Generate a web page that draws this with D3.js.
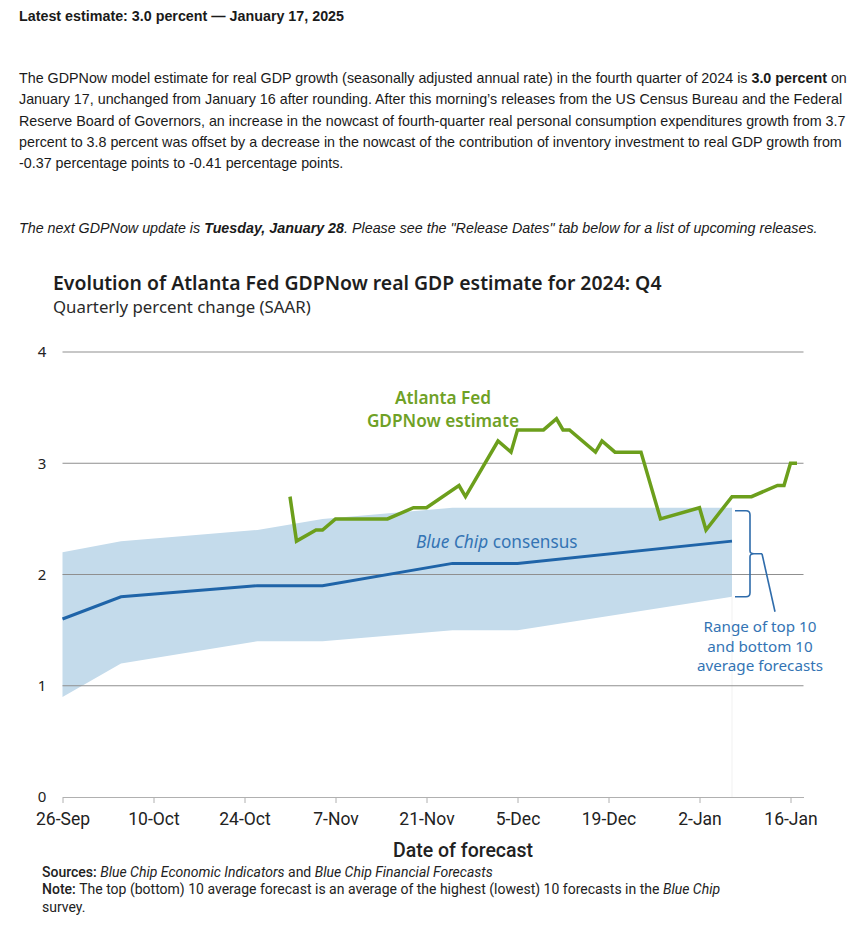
<!DOCTYPE html>
<html>
<head>
<meta charset="utf-8">
<script src="https://cdn.jsdelivr.net/npm/d3@7/dist/d3.min.js"></script>
<style>
  body { margin: 0; background: #fff; }
  svg { display: block; }
</style>
</head>
<body>
<svg id="chart" width="863" height="930"></svg>
<script>
// ---- data ----
const chipDates = ["2024-09-26", "2024-10-05", "2024-10-26", "2024-11-05", "2024-11-25", "2024-12-05", "2025-01-07"];
const chipConsensus = [1.6, 1.8, 1.9, 1.9, 2.1, 2.1, 2.3];
const chipTop10 = [2.2, 2.3, 2.4, 2.5, 2.6, 2.6, 2.6];
const chipBottom10 = [0.9, 1.2, 1.4, 1.4, 1.5, 1.5, 1.8];

const nowDates = ["2024-10-31", "2024-11-01", "2024-11-04", "2024-11-05", "2024-11-07", "2024-11-15",
  "2024-11-19", "2024-11-21", "2024-11-26", "2024-11-27", "2024-12-02", "2024-12-04", "2024-12-05",
  "2024-12-09", "2024-12-11", "2024-12-12", "2024-12-13", "2024-12-17", "2024-12-18", "2024-12-20",
  "2024-12-24", "2024-12-27", "2025-01-02", "2025-01-03", "2025-01-07", "2025-01-10", "2025-01-14",
  "2025-01-15", "2025-01-16", "2025-01-17"];
const nowValues = [2.7, 2.3, 2.4, 2.4, 2.5, 2.5,
  2.6, 2.6, 2.8, 2.7, 3.2, 3.1, 3.3,
  3.3, 3.4, 3.3, 3.3, 3.1, 3.2, 3.1,
  3.1, 2.5, 2.6, 2.4, 2.7, 2.7, 2.8,
  2.8, 3.0, 3.0];

const xTickDates = ["2024-09-26", "2024-10-10", "2024-10-24", "2024-11-07", "2024-11-21",
  "2024-12-05", "2024-12-19", "2025-01-02", "2025-01-16"];
const yTicks = [0, 1, 2, 3, 4];

const parse = d3.timeParse("%Y-%m-%d");
const fmt = d3.timeFormat("%-d-%b");

const chip = chipDates.map((d, i) => ({ date: parse(d), mid: chipConsensus[i], hi: chipTop10[i], lo: chipBottom10[i] }));
const now = nowDates.map((d, i) => ({ date: parse(d), v: nowValues[i] }));

const GREEN = "#6c9f1c";
const BLUE = "#1f64a8";
const TXT_BLUE = "#3474b4";
const plexFont = "'Noto Sans', 'Open Sans', sans-serif";
const narrowFont = "Roboto, 'Noto Sans', sans-serif";

const svg = d3.select("#chart");

// ---- page text above the chart ----
const head = svg.append("g")
  .attr("font-family", "'Liberation Sans', Arial, sans-serif")
  .attr("font-size", 14.3)
  .attr("fill", "#1a1a1a");

head.append("text").attr("x", 19).attr("y", 21).attr("font-weight", "bold")
  .text("Latest estimate: 3.0 percent \u2014 January 17, 2025");

const para = [
  [["The GDPNow model estimate for real GDP growth (seasonally adjusted annual rate) in the fourth quarter of 2024 is ", false], ["3.0 percent", true], [" on", false]],
  [["January 17, unchanged from January 16 after rounding. After this morning\u2019s releases from the US Census Bureau and the Federal", false]],
  [["Reserve Board of Governors, an increase in the nowcast of fourth-quarter real personal consumption expenditures growth from 3.7", false]],
  [["percent to 3.8 percent was offset by a decrease in the nowcast of the contribution of inventory investment to real GDP growth from", false]],
  [["-0.37 percentage points to -0.41 percentage points.", false]]
];
para.forEach((parts, i) => {
  const t = head.append("text").attr("x", 19).attr("y", 83 + i * 21.3);
  parts.forEach(p => t.append("tspan").attr("font-weight", p[1] ? "bold" : "normal").text(p[0]));
});

const next = head.append("text").attr("x", 19).attr("y", 233).attr("font-style", "italic");
next.append("tspan").text("The next GDPNow update is ");
next.append("tspan").attr("font-weight", "bold").text("Tuesday, January 28");
next.append("tspan").text(". Please see the \"Release Dates\" tab below for a list of upcoming releases.");

// ---- chart titles ----
svg.append("text").attr("x", 53).attr("y", 290)
  .attr("font-family", plexFont).attr("font-size", 19.4).attr("font-weight", 600).attr("fill", "#1e1e1e")
  .text("Evolution of Atlanta Fed GDPNow real GDP estimate for 2024: Q4");
svg.append("text").attr("x", 53).attr("y", 313)
  .attr("font-family", plexFont).attr("font-size", 16.8).attr("fill", "#2a2a2a")
  .text("Quarterly percent change (SAAR)");

// ---- scales ----
const x = d3.scaleTime()
  .domain([parse("2024-09-26"), parse("2025-01-18")])
  .range([62.5, 803.5]);
const y = d3.scaleLinear().domain([0, 4]).range([797, 352]);

// band of top/bottom 10
svg.append("path").datum(chip)
  .attr("fill", "#c4dbeb")
  .attr("d", d3.area().x(d => x(d.date)).y0(d => y(d.lo)).y1(d => y(d.hi)));

// faint edge under the band end
const lastChip = chip[chip.length - 1];
svg.append("line")
  .attr("x1", x(lastChip.date)).attr("x2", x(lastChip.date))
  .attr("y1", y(lastChip.lo)).attr("y2", y(0))
  .attr("stroke", "#f1f1f1").attr("stroke-width", 1);

// gridlines
svg.append("g").selectAll("line").data(yTicks.filter(v => v > 0)).join("line")
  .attr("x1", x.range()[0]).attr("x2", x.range()[1])
  .attr("y1", d => y(d)).attr("y2", d => y(d))
  .attr("stroke", "#8f8f8f").attr("stroke-width", 1);

// y labels
svg.append("g").selectAll("text").data(yTicks).join("text")
  .attr("x", 42).attr("y", d => y(d)).attr("dy", "0.36em")
  .attr("text-anchor", "middle")
  .attr("font-family", plexFont).attr("font-size", 15).attr("fill", "#222")
  .text(d => d);

// x axis
const xAxis = d3.axisBottom(x)
  .tickValues(xTickDates.map(parse))
  .tickFormat(fmt)
  .tickSizeInner(6).tickSizeOuter(0).tickPadding(10);
const gx = svg.append("g").attr("transform", `translate(0,${y(0)})`).call(xAxis);
gx.select(".domain").attr("stroke", "#b0b0b0");
gx.selectAll(".tick line").attr("stroke", "#b0b0b0");
gx.selectAll(".tick text").attr("font-family", narrowFont).attr("font-size", 17.5).attr("fill", "#222");

svg.append("text").attr("x", 463).attr("y", 857).attr("text-anchor", "middle")
  .attr("font-family", narrowFont).attr("font-size", 19.5).attr("font-weight", 500).attr("fill", "#222")
  .text("Date of forecast");

// Blue Chip consensus line
svg.append("path").datum(chip)
  .attr("fill", "none").attr("stroke", BLUE).attr("stroke-width", 3)
  .attr("d", d3.line().x(d => x(d.date)).y(d => y(d.mid)));

// GDPNow line
svg.append("path").datum(now)
  .attr("fill", "none").attr("stroke", GREEN).attr("stroke-width", 3.5)
  .attr("stroke-linejoin", "miter")
  .attr("d", d3.line().x(d => x(d.date)).y(d => y(d.v)));

// ---- annotations ----
const gl = svg.append("text").attr("text-anchor", "middle")
  .attr("font-family", plexFont).attr("font-size", 17.2).attr("font-weight", 600).attr("fill", "#6fa126");
gl.append("tspan").attr("x", 443).attr("y", 404).text("Atlanta Fed");
gl.append("tspan").attr("x", 443).attr("y", 427).text("GDPNow estimate");

const bc = svg.append("text").attr("x", 416).attr("y", 548)
  .attr("font-family", plexFont).attr("font-size", 17.2).attr("fill", TXT_BLUE);
bc.append("tspan").attr("font-style", "italic").text("Blue Chip");
bc.append("tspan").text(" consensus");

// bracket for the range
const bx = x(lastChip.date) + 3;
const yt = y(lastChip.hi) + 3, yb = y(lastChip.lo), ym = (yt + yb) / 2;
const bxv = bx + 15;
svg.append("path")
  .attr("fill", "none").attr("stroke", "#2f6cab").attr("stroke-width", 1.6)
  .attr("d", `M${bx},${yt} L${bxv - 4},${yt} Q${bxv},${yt} ${bxv},${yt + 4} L${bxv},${ym - 3}
    Q${bxv},${ym} ${bxv + 4},${ym} L${bxv + 12},${ym}
    M${bxv + 4},${ym} Q${bxv},${ym} ${bxv},${ym + 3} L${bxv},${yb - 4} Q${bxv},${yb} ${bxv - 4},${yb} L${bx},${yb}`);
svg.append("line")
  .attr("x1", bxv + 12).attr("y1", ym).attr("x2", bxv + 25).attr("y2", ym + 58)
  .attr("stroke", "#2f6cab").attr("stroke-width", 1.6);

const rng = svg.append("text").attr("text-anchor", "middle")
  .attr("font-family", plexFont).attr("font-size", 15.2).attr("fill", TXT_BLUE);
["Range of top 10", "and bottom 10", "average forecasts"].forEach((s, i) => {
  rng.append("tspan").attr("x", 760).attr("y", 632 + i * 19.6).text(s);
});

// ---- footer ----
const foot = svg.append("g").attr("font-family", narrowFont).attr("font-size", 14).attr("fill", "#222");
const s1 = foot.append("text").attr("x", 42).attr("y", 877);
s1.append("tspan").attr("font-weight", 500).text("Sources: ");
s1.append("tspan").attr("font-style", "italic").text("Blue Chip Economic Indicators");
s1.append("tspan").text(" and ");
s1.append("tspan").attr("font-style", "italic").text("Blue Chip Financial Forecasts");
const s2 = foot.append("text").attr("x", 42).attr("y", 894);
s2.append("tspan").attr("font-weight", 500).text("Note: ");
s2.append("tspan").text("The top (bottom) 10 average forecast is an average of the highest (lowest) 10 forecasts in the ");
s2.append("tspan").attr("font-style", "italic").text("Blue Chip");
foot.append("text").attr("x", 42).attr("y", 912).text("survey.");
</script>
</body>
</html>
